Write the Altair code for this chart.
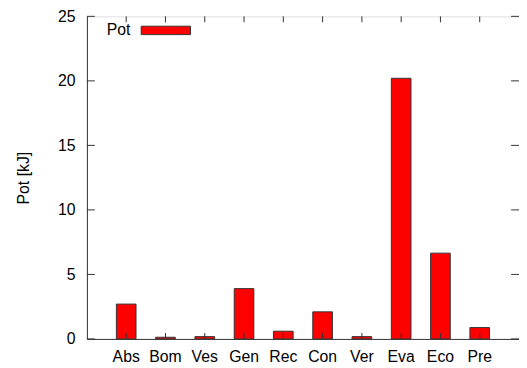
import altair as alt
import pandas as pd

categories = ["Abs", "Bom", "Ves", "Gen", "Rec", "Con", "Ver", "Eva", "Eco", "Pre"]
values = [2.7, 0.13, 0.18, 3.9, 0.6, 2.1, 0.18, 20.2, 6.65, 0.88]
y_ticks = [0, 5, 10, 15, 20, 25]
series_name = "Pot"
y_title = "Pot [kJ]"

W, H = 438, 327
FONT = "Liberation Sans"
FS = 16
FRAME = "#333333"

df = pd.DataFrame({"cat": categories, "value": values})
tdf = pd.DataFrame({"value": y_ticks})
ldf = pd.DataFrame({"name": [series_name]})

xscale = alt.Scale(domain=categories, paddingInner=0.5, paddingOuter=0.75)
yscale = alt.Scale(domain=[0, 25], nice=False, zero=True)

xaxis = alt.Axis(title=None, ticks=False, domain=True, domainColor=FRAME, labelAngle=0,
                 labelPadding=10, labelFontSize=FS, labelFont=FONT,
                 labelColor="#000000", grid=False)
yaxis = alt.Axis(values=y_ticks, ticks=False, domain=True, domainColor=FRAME, grid=False,
                 labelPadding=12, labelFontSize=FS, labelFont=FONT,
                 labelColor="#000000",
                 title=y_title, titleFont=FONT, titleFontSize=FS,
                 titleFontWeight="normal", titleColor="#000000",
                 titleX=-64, titleY=H / 2, titleAngle=270,
                 titleAlign="center", titleBaseline="middle")

X = alt.X("cat:N", scale=xscale, sort=categories, axis=xaxis)
Y = alt.Y("value:Q", scale=yscale, axis=yaxis)

bars = alt.Chart(df).mark_bar(color="#ff0000", stroke="#333333", strokeWidth=1).encode(
    x=X, y=Y,
)

xt_bottom = alt.Chart(df).mark_rule(color=FRAME, strokeWidth=1).encode(
    x=X, y=alt.value(H), y2=alt.value(H - 6),
)
xt_top = alt.Chart(df).mark_rule(color=FRAME, strokeWidth=1).encode(
    x=X, y=alt.value(0), y2=alt.value(6),
)
yt_left = alt.Chart(tdf).mark_rule(color=FRAME, strokeWidth=1).encode(
    y=Y, x=alt.value(0), x2=alt.value(8),
)
yt_right = alt.Chart(tdf).mark_rule(color=FRAME, strokeWidth=1).encode(
    y=Y, x=alt.value(W - 8), x2=alt.value(W),
)

leg_rect = alt.Chart(ldf).mark_rect(color="#ff0000", stroke="#333333", strokeWidth=1).encode(
    x=alt.value(55), x2=alt.value(105), y=alt.value(10), y2=alt.value(18.5),
)
leg_text = alt.Chart(ldf).mark_text(align="right", baseline="middle", font=FONT,
                                     fontSize=FS, color="#000000").encode(
    text="name:N", x=alt.value(44), y=alt.value(14),
)

chart = alt.layer(bars, xt_bottom, xt_top, yt_left, yt_right, leg_rect, leg_text).properties(
    width=W, height=H,
    autosize=alt.AutoSizeParams(type="none"),
    padding={"left": 80, "top": 6, "right": 0, "bottom": 27},
).configure_view(stroke=FRAME, strokeWidth=1).configure(background="#ffffff")

chart.save("out.html", embed_options={"renderer": "svg", "actions": False})
